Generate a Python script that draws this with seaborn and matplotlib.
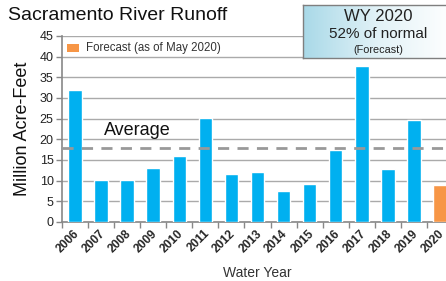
import numpy as np
import pandas as pd
import matplotlib
matplotlib.use("Agg")
import matplotlib.pyplot as plt
import matplotlib.transforms as mtransforms
import seaborn as sns
from matplotlib.patches import Rectangle
from matplotlib.colors import LinearSegmentedColormap

years = ["2006", "2007", "2008", "2009", "2010", "2011", "2012", "2013",
         "2014", "2015", "2016", "2017", "2018", "2019", "2020"]
runoff = [32.0, 10.2, 10.2, 13.0, 16.0, 25.1, 11.7, 12.1, 7.4, 9.2, 17.4, 37.8, 12.9, 24.6, 9.0]
kind = ["Observed"] * 14 + ["Forecast"]
average = 17.8

sns.set_theme(style="white")
plt.rcParams['font.family'] = ['Liberation Sans', 'DejaVu Sans']

df = pd.DataFrame({"Year": years, "Runoff": runoff, "Kind": kind})

fig = plt.figure(figsize=(4.46, 2.81), dpi=100)
ax = fig.add_axes([62/446, 1-222/281, 391/446, (222-36)/281])

sns.barplot(data=df, x="Year", y="Runoff", hue="Kind",
            palette={"Observed": "#00B0F0", "Forecast": "#F79646"},
            dodge=False, width=0.52, saturation=1, ax=ax, legend=False, zorder=3)

ax.set_ylim(0, 45)
ax.set_xlim(-0.5, 14.5)
ax.set_yticks(range(0, 46, 5))
ax.tick_params(axis='y', labelsize=9, length=4, width=1, left=True, pad=2,
               colors='#888888', labelcolor='#222222')
ax.yaxis.grid(True, color='#AAAAAA', linewidth=1)
ax.set_axisbelow(True)

ax.set_xticks(range(len(years)))
ax.set_xticklabels(years, rotation=45, ha='right', rotation_mode='anchor',
                   fontsize=8.6, fontweight='bold')
ax.tick_params(axis='x', length=0, pad=4)
offset = mtransforms.ScaledTranslation(-2/100, 0, fig.dpi_scale_trans)
for lab in ax.get_xticklabels():
    lab.set_transform(lab.get_transform() + offset)
ax.set_xticks(np.arange(-0.5, 15, 1), minor=True)
ax.tick_params(axis='x', which='minor', length=4, width=1, color='#888888', bottom=True)

for s in ['top', 'right']:
    ax.spines[s].set_visible(False)
for s in ['left', 'bottom']:
    ax.spines[s].set_color('#888888')
    ax.spines[s].set_linewidth(1.2)

ax.axhline(average, color='#999999', linestyle=(0, (4, 3)), linewidth=2, zorder=4)
ax.text(1.1, 20.0, "Average", fontsize=13, color='#111111', va='bottom', ha='left')

ax.set_xlabel("Water Year", fontsize=10, color='#333333', labelpad=8)
ax.set_ylabel("Million Acre-Feet", fontsize=13, color='#111111', labelpad=6)

# legend
ax.add_patch(Rectangle((0.013, 0.913), 0.03, 0.043, transform=ax.transAxes,
                       facecolor='#F79646', edgecolor='none', zorder=5, clip_on=False))
ax.text(0.062, 0.935, "Forecast (as of May 2020)", transform=ax.transAxes,
        fontsize=8.3, color='#333333', va='center', ha='left')

fig.text(8/446, 1-16/281, "Sacramento River Runoff", fontsize=14, color='#111111',
         va='center', ha='left')

# info box with gradient
bx = fig.add_axes([303/446, 1-58/281, 150/446, 53/281])
grad = np.linspace(0, 1, 256).reshape(1, -1)
cmap = LinearSegmentedColormap.from_list("g", ["#A9D9E8", "#E2F2F7", "#FFFFFF"])
bx.imshow(grad, aspect='auto', cmap=cmap, extent=[0, 1, 0, 1])
bx.set_xlim(0, 1); bx.set_ylim(0, 1)
bx.set_xticks([]); bx.set_yticks([])
for s in bx.spines.values():
    s.set_color('#7F7F7F'); s.set_linewidth(1)
bx.text(0.5, 0.78, "WY 2020", fontsize=12, ha='center', va='center', color='#222222')
bx.text(0.5, 0.45, "52% of normal", fontsize=11, ha='center', va='center', color='#222222')
bx.text(0.5, 0.15, "(Forecast)", fontsize=7.8, ha='center', va='center', color='#222222')

fig.savefig("out.png", dpi=100)
